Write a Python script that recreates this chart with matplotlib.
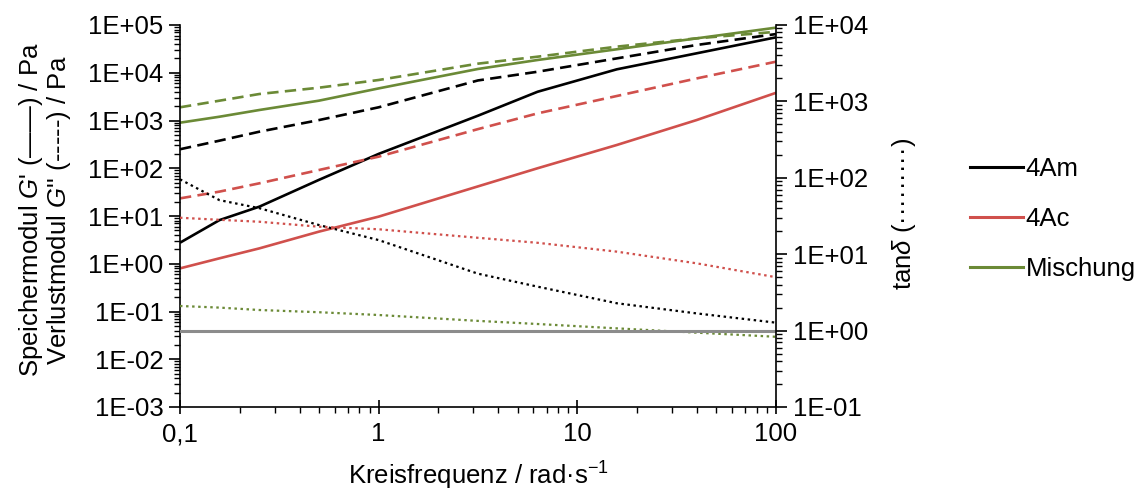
import numpy as np
import matplotlib
matplotlib.use("Agg")
import matplotlib.pyplot as plt
from matplotlib.ticker import LogLocator, FuncFormatter, NullFormatter
from matplotlib.lines import Line2D

plt.rcParams['font.family'] = ['Liberation Sans', 'DejaVu Sans']
plt.rcParams['mathtext.fontset'] = 'custom'
plt.rcParams['mathtext.rm'] = 'Liberation Sans'
plt.rcParams['mathtext.it'] = 'Liberation Sans:italic'

# angular frequency / rad s^-1
freq = [0.1, 0.158, 0.251, 0.5, 1.0, 3.16, 6.31, 15.8, 39.8, 100]

# storage modulus G' / Pa
g1_4am = [2.76, 8.2, 15.7, 57, 200, 1260, 4000, 11800, 25500, 55200]
g1_4ac = [0.8, 1.3, 2.1, 4.7, 9.7, 41.7, 100, 307, 1020, 3800]
g1_mix = [900, 1200, 1660, 2600, 4700, 12000, 18500, 31000, 52500, 88000]

# loss modulus G'' / Pa
g2_4am = [250, 378, 583, 1020, 1890, 6900, 10500, 20000, 38100, 64600]
g2_4ac = [23.4, 32.4, 48.4, 91.8, 175, 660, 1410, 3260, 7590, 17060]
g2_mix = [1890, 2600, 3590, 4860, 7050, 15500, 21700, 35200, 52500, 72000]

# loss factor tan(delta)
tan_4am = [95.5, 51, 40, 24.1, 15.3, 5.56, 3.76, 2.28, 1.68, 1.27]
tan_4ac = [30, 28.2, 26.6, 22.9, 21.2, 16.4, 14.1, 10.8, 7.6, 5.0]
tan_mix = [2.1, 2.0, 1.86, 1.74, 1.6, 1.34, 1.22, 1.07, 0.94, 0.83]
tan_ref = 1.0

labels = ['4Am', '4Ac', 'Mischung']
colors = ['#000000', '#d0504c', '#6b8a36']

fig = plt.figure(figsize=(11.47, 4.95), dpi=100)
ax = fig.add_axes([180 / 1147, 1 - 407 / 495, 596 / 1147, 382 / 495])
ax2 = ax.twinx()

lw = 1.9
for g1, g2, tn, c in zip([g1_4am, g1_4ac, g1_mix], [g2_4am, g2_4ac, g2_mix],
                         [tan_4am, tan_4ac, tan_mix], colors):
    ax.plot(freq, g1, color=c, lw=lw, solid_capstyle='butt')
    ax.plot(freq, g2, color=c, lw=lw, linestyle=(0, (4.3, 2.4)))
    ax2.plot(freq, tn, color=c, lw=lw * 0.85, linestyle=(0, (1.1, 1.6)))

ax2.plot([freq[0], freq[-1]], [tan_ref, tan_ref], color='#8c8c8c', lw=2.2)

ax.set_xscale('log')
ax.set_yscale('log')
ax2.set_yscale('log')
ax.set_xlim(0.1, 100)
ax.set_ylim(1e-3, 1e5)
ax2.set_ylim(1e-1, 1e4)

fmt_e = FuncFormatter(lambda v, p: f"{v:.0E}")
for a in (ax, ax2):
    a.yaxis.set_major_locator(LogLocator(base=10, numticks=20))
    a.yaxis.set_minor_locator(LogLocator(base=10, subs=np.arange(2, 10), numticks=200))
    a.yaxis.set_major_formatter(fmt_e)
    a.yaxis.set_minor_formatter(NullFormatter())

ax.xaxis.set_major_locator(LogLocator(base=10, numticks=10))
ax.xaxis.set_minor_locator(LogLocator(base=10, subs=np.arange(2, 10), numticks=100))
ax.xaxis.set_major_formatter(FuncFormatter(lambda v, p: f"{v:g}".replace('.', ',')))
ax.xaxis.set_minor_formatter(NullFormatter())

for a in (ax, ax2):
    a.spines['top'].set_visible(False)
    for s in ['left', 'right', 'bottom']:
        a.spines[s].set_linewidth(1.2)
ax.spines['right'].set_visible(False)
ax2.spines['left'].set_visible(False)
ax2.spines['bottom'].set_visible(False)

ax.tick_params(axis='y', which='major', direction='out', length=8, width=1.2, labelsize=18.5, pad=4)
ax.tick_params(axis='y', which='minor', direction='out', length=4, width=1.0)
ax2.tick_params(axis='y', which='major', direction='out', length=8, width=1.2, labelsize=18.5, pad=4)
ax2.tick_params(axis='y', which='minor', direction='out', length=4, width=1.0)
ax.tick_params(axis='x', which='major', direction='inout', length=10, width=1.2, labelsize=18.5, pad=6)
ax.tick_params(axis='x', which='minor', direction='out', length=4, width=1.0)

ax.set_xlabel(r"Kreisfrequenz / rad·s$^{-1}$", fontsize=18.5, labelpad=10)

fig.text(45 / 1147, 1 - 210 / 495,
         "Speichermodul $G$' (——) / Pa\nVerlustmodul $G$'' (-----) / Pa",
         rotation=90, ha='center', va='center', multialignment='center',
         fontsize=18.5, linespacing=1.0)
fig.text(904 / 1147, 1 - 214 / 495, r"tan$\mathit{\delta}$ (·········)",
         rotation=90, ha='center', va='center', fontsize=18.5)

handles = [Line2D([], [], color=c, lw=2.2) for c in colors]
fig.legend(handles, labels, loc='upper left', bbox_to_anchor=(957 / 1147, 1 - 144 / 495),
           frameon=False, fontsize=18.5, handlelength=2.05, handletextpad=0.12,
           labelspacing=1.02, borderpad=0)

fig.savefig('out.png', dpi=100)
